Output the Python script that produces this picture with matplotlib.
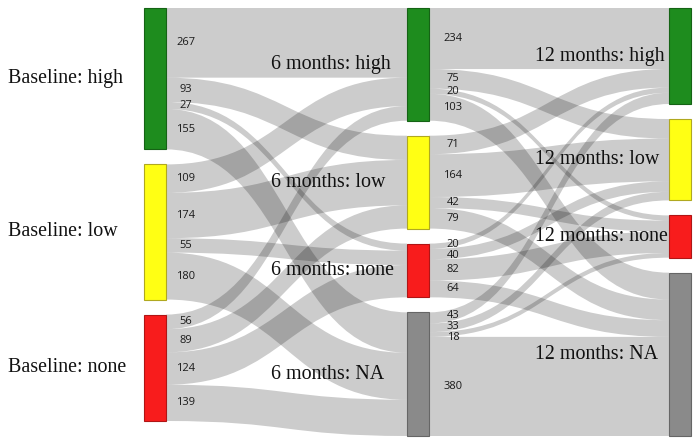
import matplotlib.pyplot as plt
from matplotlib.path import Path
from matplotlib.patches import PathPatch, Rectangle

stages = ['Baseline', '6 months', '12 months']
levels = ['high', 'low', 'none', 'NA']

# flows between stages: rows = from level, cols = to level
base_to_6m = [[267, 93, 27, 155],
              [109, 174, 55, 180],
              [56, 89, 124, 139]]
m6_to_12m = [[234, 75, 20, 103],
             [71, 164, 42, 79],
             [20, 40, 82, 64],
             [43, 33, 18, 380]]

node_colors = ['#1e8c1e', '#ffff14', '#f81c1c', '#8a8a8a']
edge_colors = ['#156315', '#b0a820', '#b01515', '#666666']

# layout (pixels)
top = 8
gap = 15
scale = 0.2609
node_w = 22
node_x = [144, 407, 669]
label_x = [8, 271, 535]
num_dx = [42, 46]
min_sep = 11

flows = [base_to_6m, m6_to_12m]
totals = [[sum(r) for r in base_to_6m],
          [sum(r) for r in m6_to_12m],
          [sum(r[j] for r in m6_to_12m) for j in range(4)]]

def tops(vals):
    out = []
    y = top
    for v in vals:
        out.append(y)
        y += v * scale + gap
    return out

def spread(ys):
    # push neighbouring number labels apart so they don't collide
    ys = list(ys)
    for _ in range(50):
        moved = False
        for k in range(len(ys) - 1):
            d = ys[k + 1] - ys[k]
            if d < min_sep:
                shift = (min_sep - d) / 2
                ys[k] -= shift
                ys[k + 1] += shift
                moved = True
        if not moved:
            break
    return ys

node_tops = [tops(t) for t in totals]

fig = plt.figure(figsize=(7, 4.44), dpi=100)
ax = fig.add_axes([0, 0, 1, 1])
ax.set_xlim(0, 700)
ax.set_ylim(444, 0)
ax.axis('off')

# links
for s, mat in enumerate(flows):
    x0 = node_x[s] + node_w
    x1 = node_x[s + 1]
    xm = (x0 + x1) / 2
    out_y = list(node_tops[s])
    in_y = list(node_tops[s + 1])
    for i, row in enumerate(mat):
        centers = []
        for j, v in enumerate(row):
            h = v * scale
            a, b = out_y[i], in_y[j]
            verts = [(x0, a), (xm, a), (xm, b), (x1, b),
                     (x1, b + h), (xm, b + h), (xm, a + h), (x0, a + h), (x0, a)]
            codes = [Path.MOVETO, Path.CURVE4, Path.CURVE4, Path.CURVE4,
                     Path.LINETO, Path.CURVE4, Path.CURVE4, Path.CURVE4, Path.CLOSEPOLY]
            ax.add_patch(PathPatch(Path(verts, codes), facecolor='black',
                                   alpha=0.2, lw=0))
            centers.append(a + h / 2)
            out_y[i] += h
            in_y[j] += h
        for v, yc in zip(row, spread(centers)):
            ax.text(node_x[s] + num_dx[s], yc, str(v), ha='center',
                    va='center', fontsize=8, family='Open Sans', color='#1a1a1a')

# nodes and labels
for s, t in enumerate(totals):
    for k, v in enumerate(t):
        y = node_tops[s][k]
        h = v * scale
        ax.add_patch(Rectangle((node_x[s], y), node_w, h, facecolor=node_colors[k],
                               edgecolor=edge_colors[k], lw=0.8))
        ax.text(label_x[s], y + h / 2, f'{stages[s]}: {levels[k]}', ha='left',
                va='center', fontsize=14.4, family='Liberation Serif', color='#111111')

fig.savefig('out.png', dpi=100)
